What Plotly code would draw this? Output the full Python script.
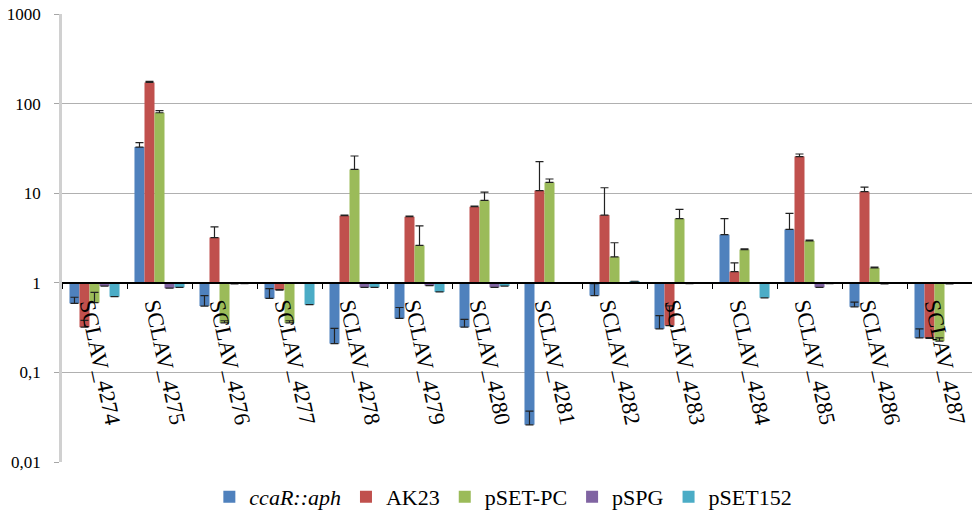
import plotly.graph_objects as go

# Relative expression of the cluster genes (log scale, bars start at 1)
categories = ["SCLAV_4274", "SCLAV_4275", "SCLAV_4276", "SCLAV_4277", "SCLAV_4278",
              "SCLAV_4279", "SCLAV_4280", "SCLAV_4281", "SCLAV_4282", "SCLAV_4283",
              "SCLAV_4284", "SCLAV_4285", "SCLAV_4286", "SCLAV_4287"]

ccar_aph = [0.59, 32.7, 0.55, 0.67, 0.21, 0.40, 0.32, 0.026, 0.72, 0.306, 3.44, 3.94, 0.54, 0.243]
ccar_aph_err = [0.10, 4.0, 0.17, 0.19, 0.10, 0.13, 0.07, 0.011, 0.26, 0.125, 1.75, 2.0, 0.07, 0.063]

ak23 = [0.32, 172, 3.2, 0.83, 5.6, 5.46, 7.06, 10.7, 5.7, 0.333, 1.33, 25.6, 10.4, 0.24]
ak23_err = [0.06, 5.0, 1.0, 0.01, 0.1, 0.1, 0.1, 11.8, 5.8, 0.22, 0.34, 1.8, 1.3, 0.005]

pset_pc = [0.60, 79, 0.357, 0.357, 18.4, 2.61, 8.3, 13.2, 1.95, 5.19, 2.35, 2.94, 1.47, 0.223]
pset_pc_err = [0.18, 4.5, 0.02, 0.02, 7.6, 1.7, 2.0, 1.2, 0.85, 1.4, 0.05, 0.05, 0.03, 0.02]

pspg = [0.92, 0.87, 0.97, 1.0, 0.89, 0.93, 0.89, 1.0, 1.0, 0.98, 1.0, 0.89, 0.97, 0.97]
pspg_err = [0] * 14

pset152 = [0.70, 0.89, 0.98, 0.57, 0.89, 0.79, 0.92, 1.0, 1.04, 1.0, 0.68, 0.98, 1.0, 1.0]
pset152_err = [0] * 14

y_tickvals = [0.01, 0.1, 1, 10, 100, 1000]
y_ticktext = ["0,01", "0,1", "1", "10", "100", "1000"]

series = [
    ("<i>ccaR::aph</i>", ccar_aph, ccar_aph_err, "#4F81BD"),
    ("AK23", ak23, ak23_err, "#C0504D"),
    ("pSET-PC", pset_pc, pset_pc_err, "#9BBB59"),
    ("pSPG", pspg, pspg_err, "#8064A2"),
    ("pSET152", pset152, pset152_err, "#4BACC6"),
]

SERIF = "Liberation Serif"
BASE = 1.0

fig = go.Figure()
for name, vals, errs, color in series:
    fig.add_trace(go.Bar(
        name=name,
        x=categories,
        y=[v - BASE for v in vals],   # bar spans from the base (1) to the value
        base=BASE,
        marker=dict(color=color, line=dict(width=0)),
        error_y=dict(type="data", array=errs, arrayminus=[0] * len(errs),
                     symmetric=False, visible=True, color="#222222",
                     thickness=1.2, width=4),
    ))

fig.update_layout(
    width=972, height=512,
    margin=dict(l=62, r=0, t=14, b=50, autoexpand=False),
    paper_bgcolor="white", plot_bgcolor="white",
    font=dict(family=SERIF, size=17, color="black"),
    barmode="group", bargap=0.23, bargroupgap=0,
    showlegend=True,
    legend=dict(orientation="h", x=0.485, xanchor="center", y=-0.078, yanchor="middle",
                font=dict(family=SERIF, size=22, color="black"),
                itemwidth=30, tracegroupgap=0),
    xaxis=dict(
        type="category", anchor="free", position=0.4,
        tickson="boundaries", ticks="outside", ticklen=5, tickcolor="black",
        showline=True, linecolor="black", linewidth=1.5,
        showgrid=False, tickangle=78, ticklabelshift=-4,
        tickfont=dict(family=SERIF, size=22.5, color="black"),
        layer="above traces",
    ),
    yaxis=dict(
        type="log", range=[-2, 3],
        tickvals=y_tickvals, ticktext=y_ticktext,
        ticks="outside", ticklen=5, tickcolor="#a6a6a6",
        ticklabelstandoff=10,
        showgrid=True, gridcolor="#b0b0b0", gridwidth=1,
        showline=True, linecolor="#d0d0d0", linewidth=2.5,
        zeroline=False,
        tickfont=dict(family=SERIF, size=17, color="black"),
    ),
)

fig.write_html("out.html")
